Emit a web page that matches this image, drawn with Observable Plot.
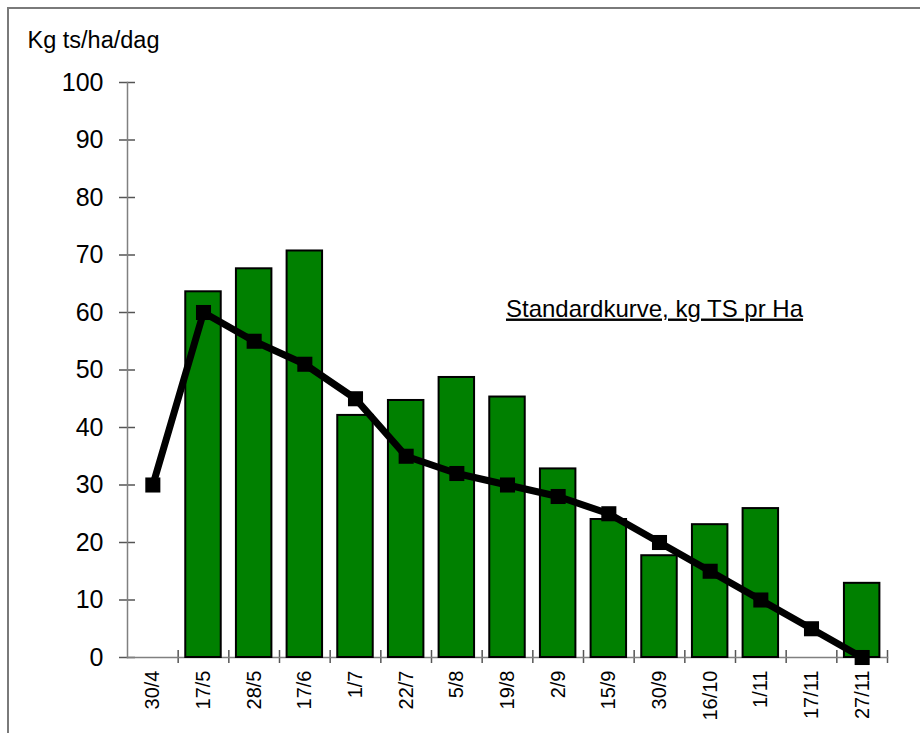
<!DOCTYPE html>
<html>
<head>
<meta charset="utf-8">
<script src="https://cdn.jsdelivr.net/npm/d3@7"></script>
<script src="https://cdn.jsdelivr.net/npm/@observablehq/plot@0.6"></script>
<style>
  html, body { margin: 0; padding: 0; background: #fff; }
  #wrap { position: relative; width: 920px; height: 733px; overflow: hidden; }
  #border { position: absolute; left: 7px; top: 7px; width: 960px; height: 800px;
            border-left: 2px solid #7a7a7a; border-top: 2px solid #7a7a7a; box-sizing: border-box; }
  svg { font-family: "Liberation Sans", Arial, sans-serif; }
</style>
</head>
<body>
<div id="wrap"><div id="border"></div></div>
<script>
const dates = ["30/4","17/5","28/5","17/6","1/7","22/7","5/8","19/8","2/9","15/9","30/9","16/10","1/11","17/11","27/11"];
const measured = [null, 63.6, 67.6, 70.7, 42.1, 44.7, 48.7, 45.3, 32.8, 24.0, 17.7, 23.1, 25.9, null, 12.9];
const standard = [30, 60, 55, 51, 45, 35, 32, 30, 28, 25, 20, 15, 10, 5, 0];
const yTicks = [0,10,20,30,40,50,60,70,80,90,100];
const yLabel = "Kg ts/ha/dag";
const curveLabel = "Standardkurve, kg TS pr Ha";

const bars = dates.map((d, i) => ({date: d, value: measured[i]})).filter(d => d.value != null);
const line = dates.map((d, i) => ({date: d, value: standard[i]}));

const W = 920, H = 733;
const mL = 127, mR = 33, mT = 82, mB = 76;
const step = (W - mL - mR) / dates.length;

const chart = Plot.plot({
  width: W, height: H,
  marginLeft: mL, marginRight: mR, marginTop: mT, marginBottom: mB,
  style: {fontFamily: "'Liberation Sans', Arial, sans-serif", background: "transparent", overflow: "visible"},
  x: {type: "band", domain: dates, paddingInner: 0.3, paddingOuter: 0.15, round: false, label: null},
  y: {domain: [0, 100], label: null},
  marks: [
    Plot.axisY({ticks: yTicks, tickSize: 16, dx: 8, tickFormat: () => "", stroke: "#555", strokeWidth: 1.5, label: null}),
    Plot.axisY({ticks: yTicks, tickSize: 0, tickPadding: 24, fontSize: 25, fill: "black", label: null}),
    Plot.axisX({tickSize: 13, dy: -7, dx: step / 2, tickFormat: () => "", stroke: "#555", strokeWidth: 1.5, label: null}),
    Plot.axisX({tickSize: 0, tickPadding: 13, tickRotate: -90, fontSize: 20, fill: "black", label: null}),
    Plot.frame({anchor: "left", stroke: "#808080", strokeWidth: 1.5}),
    Plot.frame({anchor: "bottom", stroke: "#808080", strokeWidth: 1.5}),
    Plot.barY(bars, {x: "date", y: "value", fill: "#008000", stroke: "black", strokeWidth: 2}),
    Plot.line(line, {x: "date", y: "value", stroke: "black", strokeWidth: 7}),
    Plot.dot(line, {x: "date", y: "value", symbol: "square", r: 8.5, fill: "black", stroke: "none"}),
    Plot.text([curveLabel], {x: () => "30/9", y: () => 59.3, text: d => d, textAnchor: "middle", lineAnchor: "bottom", dx: -5, fontSize: 24, fill: "black"}),
    Plot.text([yLabel], {frameAnchor: "top-left", text: d => d, textAnchor: "start", lineAnchor: "bottom", dx: -100, dy: -35, fontSize: 23.5, fill: "black"})
  ]
});

d3.select(chart).selectAll("text").filter(function() { return this.textContent === curveLabel; })
  .attr("text-decoration", "underline");

document.getElementById("wrap").appendChild(chart);
chart.style.position = "absolute";
chart.style.left = "0px";
chart.style.top = "0px";
</script>
</body>
</html>
